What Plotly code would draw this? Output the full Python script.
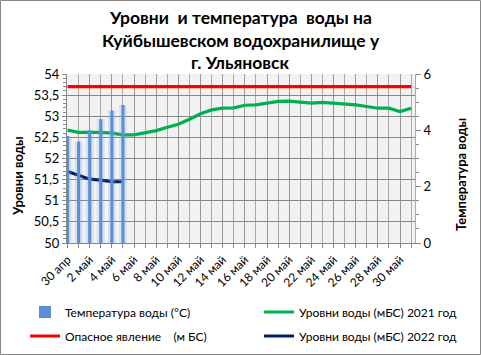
import plotly.graph_objects as go

dates = ["30 апр", "1 май", "2 май", "3 май", "4 май", "5 май", "6 май", "7 май",
         "8 май", "9 май", "10 май", "11 май", "12 май", "13 май", "14 май", "15 май",
         "16 май", "17 май", "18 май", "19 май", "20 май", "21 май", "22 май", "23 май",
         "24 май", "25 май", "26 май", "27 май", "28 май", "29 май", "30 май", "31 май"]
temp_2022 = [3.8, 3.6, 4.0, 4.4, 4.7, 4.9]
level_2021 = [52.67, 52.62, 52.62, 52.62, 52.6, 52.56, 52.56, 52.61, 52.66, 52.74,
              52.81, 52.93, 53.06, 53.15, 53.19, 53.2, 53.26, 53.27, 53.31, 53.35,
              53.36, 53.33, 53.31, 53.33, 53.31, 53.28, 53.27, 53.23, 53.19, 53.19,
              53.11, 53.19]
level_2022 = [51.69, 51.6, 51.51, 51.49, 51.45, 51.45]
danger = [53.7] * 32
left_ticks = [50, 50.5, 51, 51.5, 52, 52.5, 53, 53.5, 54]
left_tick_text = ["50", "50,5", "51", "51,5", "52", "52,5", "53", "53,5", "54"]
right_ticks = [0, 2, 4, 6]
title_lines = ["Уровни  и температура  воды на", "Куйбышевском водохранилище у", "г. Ульяновск"]

W, H = 481, 355
L, R, T, B = 67, 415, 74, 243
FONT = "Lato"

x_all = list(range(len(dates)))
x_t = x_all[:len(temp_2022)]
x_22 = x_all[:len(level_2022)]


def px_x(v):
    return (v - L) / (R - L)


def px_y(v):
    return (B - v) / (B - T)


fig = go.Figure()
# soft glow behind bars
fig.add_trace(go.Bar(x=x_t, y=temp_2022, yaxis="y2", width=0.7,
                     marker=dict(color="rgba(120,160,220,0.22)", line=dict(width=0)),
                     showlegend=False, hoverinfo="skip"))
fig.add_trace(go.Bar(x=x_t, y=temp_2022, yaxis="y2", width=0.28,
                     name="Температура воды (°С)", legend="legend",
                     marker=dict(color="#5A8ED6", line=dict(width=0))))
fig.add_trace(go.Scatter(x=x_all, y=level_2021, mode="lines",
                         name="Уровни воды (мБС) 2021 год", legend="legend2",
                         line=dict(color="#00B050", width=3.2)))
fig.add_trace(go.Scatter(x=x_all, y=danger, mode="lines",
                         name="Опасное явление    (м БС)", legend="legend3",
                         line=dict(color="#FF0000", width=3.2)))
fig.add_trace(go.Scatter(x=x_22, y=level_2022, mode="lines",
                         name="Уровни воды (мБС) 2022 год", legend="legend4",
                         line=dict(color="#002060", width=3.2)))


def leg(xp, yp):
    return dict(x=px_x(xp), xanchor="left", y=px_y(yp), yanchor="middle",
                bgcolor="rgba(0,0,0,0)", font=dict(size=12), itemwidth=30,
                borderwidth=0)


fig.update_layout(
    width=W, height=H,
    margin=dict(l=L, r=W - R, t=T, b=H - B, pad=0, autoexpand=False),
    paper_bgcolor="white", plot_bgcolor="#F2F2F2",
    barmode="overlay",
    font=dict(family=FONT, size=12, color="black"),
    xaxis=dict(range=[-0.05, 31.35], tickvals=x_all[::2], ticktext=dates[::2],
               tickangle=-45, ticks="outside", ticklen=4, tickcolor="#888",
               showgrid=True, gridcolor="#999", gridwidth=1,
               showline=True, linecolor="#888", zeroline=False,
               minor=dict(tick0=0, dtick=1, ticks="outside", ticklen=4, tickcolor="#888",
                          showgrid=True, gridcolor="#aaa", gridwidth=1),
               tickfont=dict(size=12)),
    yaxis=dict(range=[50, 54], tickvals=left_ticks, ticktext=left_tick_text,
               ticks="outside", ticklen=4, tickcolor="#888",
               showgrid=True, gridcolor="#888", gridwidth=1,
               showline=True, linecolor="#888", zeroline=False,
               minor=dict(tick0=50, dtick=0.1, ticks="outside", ticklen=3, tickcolor="#888",
                          showgrid=False),
               tickfont=dict(size=13)),
    yaxis2=dict(range=[0, 6], tickvals=right_ticks, overlaying="y", side="right",
                ticks="outside", ticklen=5, tickcolor="#888",
                showgrid=False, showline=True, linecolor="#aaa", zeroline=False,
                minor=dict(tick0=0, dtick=0.5, ticks="outside", ticklen=3, tickcolor="#888"),
                tickfont=dict(size=13)),
    legend=leg(25, 312),
    legend2=leg(259, 312),
    legend3=leg(25, 336),
    legend4=leg(259, 336),
    showlegend=True,
)

for line_text, yc in zip(title_lines, [17, 40, 62]):
    fig.add_annotation(text="<b>" + line_text + "</b>", xref="paper", yref="paper",
                       x=px_x(240.5), y=px_y(yc), xanchor="center", yanchor="middle",
                       showarrow=False, font=dict(size=17.5))

fig.add_annotation(text="<b>Уровни воды</b>", textangle=-90, xref="paper", yref="paper",
                   x=px_x(18), y=px_y(176), xanchor="center", yanchor="middle",
                   showarrow=False, font=dict(size=13))
fig.add_annotation(text="<b>Температура воды</b>", textangle=-90, xref="paper", yref="paper",
                   x=px_x(461), y=px_y(175), xanchor="center", yanchor="middle",
                   showarrow=False, font=dict(size=13))
fig.add_shape(type="rect", xref="paper", yref="paper",
              x0=px_x(0.5), x1=px_x(480.5), y0=px_y(354.5), y1=px_y(0.5),
              line=dict(color="#888", width=1), layer="below")

fig.write_html("out.html", config={"displayModeBar": False},
               post_script="document.body.style.margin='0';")
